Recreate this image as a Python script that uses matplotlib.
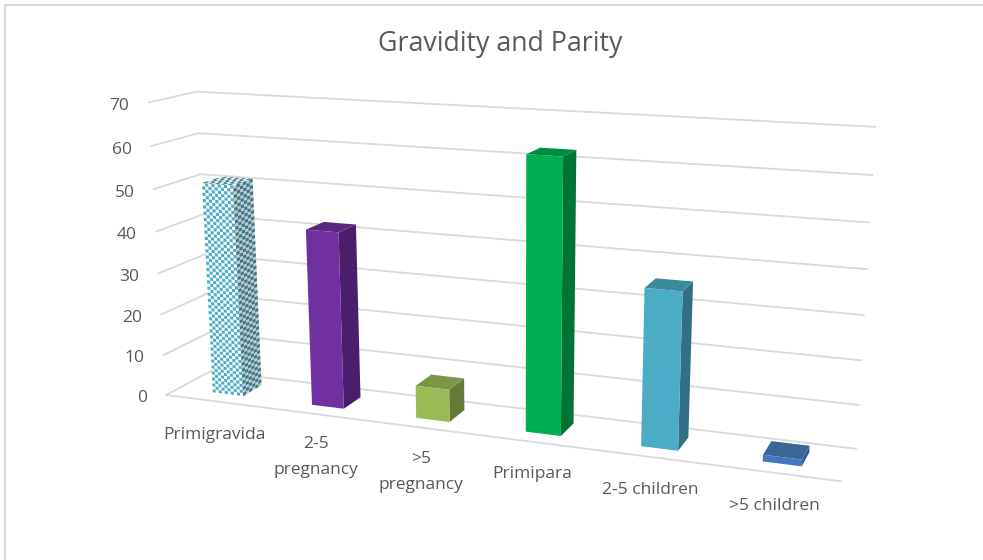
import numpy as np
from matplotlib import pyplot as plt
from matplotlib.collections import PolyCollection
from matplotlib.patches import Polygon

title = "Gravidity and Parity"
categories = ["Primigravida", "2-5\npregnancy", ">5\npregnancy", "Primipara", "2-5 children", ">5 children"]
values = [51, 42, 7.7, 62.5, 35.5, 1.5]
front_colors = ["#4BACC6", "#7030A0", "#9BBB59", "#00B050", "#4BACC6", "#4277BE"]
side_colors = ["#347A8E", "#491F6B", "#657A3A", "#007434", "#317084", "#2E5A94"]
top_colors = ["#3B8AA0", "#5A2680", "#7C9648", "#008C40", "#3C899E", "#3B6595"]
value_ticks = [0, 10, 20, 30, 40, 50, 60, 70]

label_pos = [(214, 435), (316, 457), (421, 472), (532, 474), (650, 490), (774, 506)]
grid_color = "#D9D9D9"
text_color = "#595959"

# box corners (category position, value, depth) and where they land on the canvas
box_world = np.array([(0, 0, 0), (0, 70, 0), (0, 70, 1), (0, 0, 1), (6, 0, 0), (6, 0, 1), (6, 70, 1)], float)
box_canvas = np.array([(167, 393), (148, 103), (197, 91), (210, 373), (841, 483), (856, 447), (875, 127)], float)


def fit_camera(world, canvas):
    rows = []
    for (x, y, z), (u, v) in zip(world, canvas):
        rows.append([x, y, z, 1, 0, 0, 0, 0, -u * x, -u * y, -u * z, -u])
        rows.append([0, 0, 0, 0, x, y, z, 1, -v * x, -v * y, -v * z, -v])
    return np.linalg.svd(np.array(rows))[2][-1].reshape(3, 4)


camera = fit_camera(box_world, box_canvas)


def project(points):
    points = np.atleast_2d(np.asarray(points, float))
    h = camera @ np.column_stack([points, np.ones(len(points))]).T
    return (h[:2] / h[2]).T


def checker(ax, face, nu, nv, color):
    # face is four 3d corners; cells are split along its two edges
    a, b, c, d = [np.array(p, float) for p in face]
    cells = []
    for i in range(nu):
        for j in range(nv):
            if (i + j) % 2:
                continue
            s0, s1, t0, t1 = i / nu, (i + 1) / nu, j / nv, (j + 1) / nv
            corners = []
            for s, t in [(s0, t0), (s1, t0), (s1, t1), (s0, t1)]:
                bottom = a + (b - a) * s
                top = d + (c - d) * s
                corners.append(bottom + (top - bottom) * t)
            cells.append(project(corners))
    ax.add_collection(PolyCollection(cells, facecolors=color, edgecolors="none", zorder=3))


fig = plt.figure(figsize=(9.83, 5.6), dpi=100)
ax = fig.add_axes([0, 0, 1, 1])
ax.set_xlim(0, 983)
ax.set_ylim(560, 0)
ax.axis("off")
plt.rcParams["font.family"] = ["Open Sans", "DejaVu Sans"]

# chart frame: only top and left edges show
ax.plot([5, 5, 983], [560, 5, 5], color=grid_color, lw=1.5)

ax.text(500, 44, title, ha="center", va="center", fontsize=19.3, color=text_color)

for tick in value_ticks:
    line = project([(0, tick, 0), (0, tick, 1), (6, tick, 1)])
    ax.plot(line[:, 0], line[:, 1], color=grid_color, lw=1.3, zorder=1)
    ax.text(line[0, 0] - 19.5, line[0, 1] + 3.5, str(tick), ha="right", va="center", fontsize=12.5, color=text_color)

floor = project([(0, 0, 0), (6, 0, 0)])
ax.plot(floor[:, 0], floor[:, 1], color=grid_color, lw=1.3, zorder=1)

half_width = 0.155
z0, z1 = 0.28, 0.72
for i, value in enumerate(values):
    x0, x1 = i + 0.505 - half_width, i + 0.505 + half_width
    front = [(x0, 0, z0), (x1, 0, z0), (x1, value, z0), (x0, value, z0)]
    side = [(x1, 0, z0), (x1, 0, z1), (x1, value, z1), (x1, value, z0)]
    top = [(x0, value, z0), (x1, value, z0), (x1, value, z1), (x0, value, z1)]
    if i == 0:
        # first bar has a checkered fill on white
        for face, col in [(front, "white"), (side, "#C8C8C8"), (top, "white")]:
            ax.add_patch(Polygon(project(face), facecolor=col, edgecolor="none", zorder=2))
        checker(ax, front, 10, 68, front_colors[0])
        checker(ax, side, 6, 68, side_colors[0])
        checker(ax, top, 10, 4, side_colors[0])
    else:
        ax.add_patch(Polygon(project(side), facecolor=side_colors[i], edgecolor="none", zorder=2))
        ax.add_patch(Polygon(project(top), facecolor=top_colors[i], edgecolor="none", zorder=2))
        ax.add_patch(Polygon(project(front), facecolor=front_colors[i], edgecolor="none", zorder=2))

for name, (px, py) in zip(categories, label_pos):
    ax.text(px, py, name, ha="center", va="center", fontsize=12.5, color=text_color, linespacing=1.8)

fig.savefig("out.png", dpi=100)
plt.close()
